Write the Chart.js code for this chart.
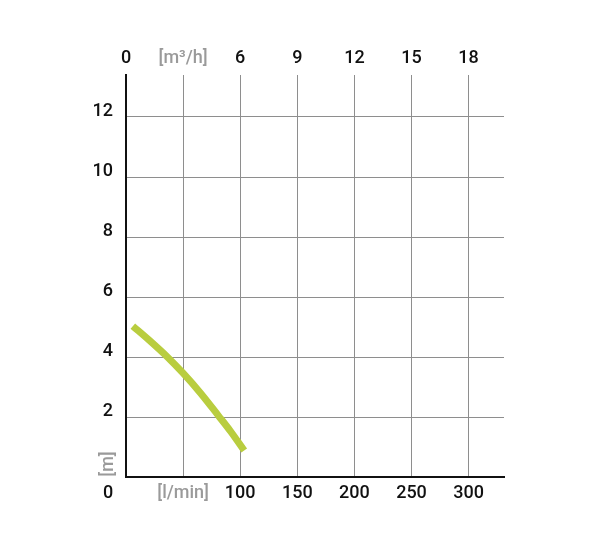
<!DOCTYPE html>
<html>
<head>
<meta charset="utf-8">
<script src="https://cdn.jsdelivr.net/npm/chart.js@4.4.0/dist/chart.umd.min.js"></script>
<style>
  body { margin: 0; background: #fff; }
  #wrap { width: 600px; height: 550px; }
</style>
</head>
<body>
<div id="wrap"><canvas id="myChart"></canvas></div>
<script>
// pump curve: flow in l/min, head in m
const flowLpm = [6, 20, 36, 50, 65, 81, 92, 103.5];
const headM = [5.03, 4.57, 4.01, 3.46, 2.81, 2.04, 1.5, 0.88];

const flowTicks = [0, 50, 100, 150, 200, 250, 300];
const flowLabels = ['', '[l/min]', '100', '150', '200', '250', '300'];
const cubicLabels = ['0', '[m³/h]', '6', '9', '12', '15', '18'];
const headTicks = [0, 2, 4, 6, 8, 10, 12];
const headLabels = ['', '2', '4', '6', '8', '10', '12'];

const FONT = 'Roboto';
const TEXT = '#111';
const GRAY_TEXT = '#9a9a9a';
const GRID = '#8e8e8e';
const tickFont = { family: FONT, size: 18, weight: '500' };

// "0" in the corner and the rotated [m] unit
const originLabels = {
    id: 'originLabels',
    afterDraw(chart) {
        const ctx = chart.ctx;
        const x = chart.scales.x;
        const y = chart.scales.y;
        ctx.save();
        ctx.font = '500 18px ' + FONT;
        ctx.textAlign = 'center';
        ctx.textBaseline = 'middle';
        ctx.fillStyle = TEXT;
        ctx.fillText('0', y.right - 18, x.top + 16);
        ctx.translate(y.right - 18, y.getPixelForValue(0) - 13);
        ctx.rotate(-Math.PI / 2);
        ctx.fillStyle = GRAY_TEXT;
        ctx.fillText('[m]', 0, 0);
        ctx.restore();
    }
};

const points = flowLpm.map((f, i) => ({ x: f, y: headM[i] }));

new Chart(document.getElementById('myChart'), {
    type: 'scatter',
    data: {
        datasets: [{
            data: points,
            showLine: true,
            borderColor: '#b9cd3f',
            borderWidth: 7,
            borderCapStyle: 'butt',
            borderJoinStyle: 'round',
            cubicInterpolationMode: 'monotone',
            pointRadius: 0
        }]
    },
    options: {
        responsive: true,
        maintainAspectRatio: false,
        animation: false,
        layout: { padding: { left: 0, right: 96, top: 0, bottom: 0 } },
        plugins: {
            legend: { display: false },
            tooltip: { enabled: false }
        },
        scales: {
            x: {
                type: 'linear',
                position: 'bottom',
                min: 0,
                max: 331,
                afterBuildTicks: (s) => { s.ticks = flowTicks.map(v => ({ value: v })); },
                afterFit: (s) => { s.height = 73; },
                ticks: {
                    padding: 6,
                    maxRotation: 0,
                    font: tickFont,
                    color: (c) => c.index === 1 ? GRAY_TEXT : TEXT,
                    callback: (v, i) => flowLabels[i]
                },
                grid: { color: GRID, lineWidth: 1, drawTicks: false },
                border: { color: TEXT, width: 2 }
            },
            x2: {
                type: 'linear',
                position: 'top',
                min: 0,
                max: 331,
                afterBuildTicks: (s) => { s.ticks = flowTicks.map(v => ({ value: v })); },
                afterFit: (s) => { s.height = 75; },
                ticks: {
                    padding: 6,
                    maxRotation: 0,
                    font: tickFont,
                    color: (c) => c.index === 1 ? GRAY_TEXT : TEXT,
                    callback: (v, i) => cubicLabels[i]
                },
                grid: { display: false, drawTicks: false },
                border: { display: false }
            },
            y: {
                min: 0,
                max: 13.4,
                afterBuildTicks: (s) => { s.ticks = headTicks.map(v => ({ value: v })); },
                afterFit: (s) => { s.width = 126; },
                ticks: {
                    padding: 13,
                    labelOffset: -6,
                    font: tickFont,
                    color: TEXT,
                    callback: (v, i) => headLabels[i]
                },
                grid: { color: GRID, lineWidth: 1, drawTicks: false },
                border: { color: TEXT, width: 2 }
            }
        }
    },
    plugins: [originLabels]
});
</script>
</body>
</html>
